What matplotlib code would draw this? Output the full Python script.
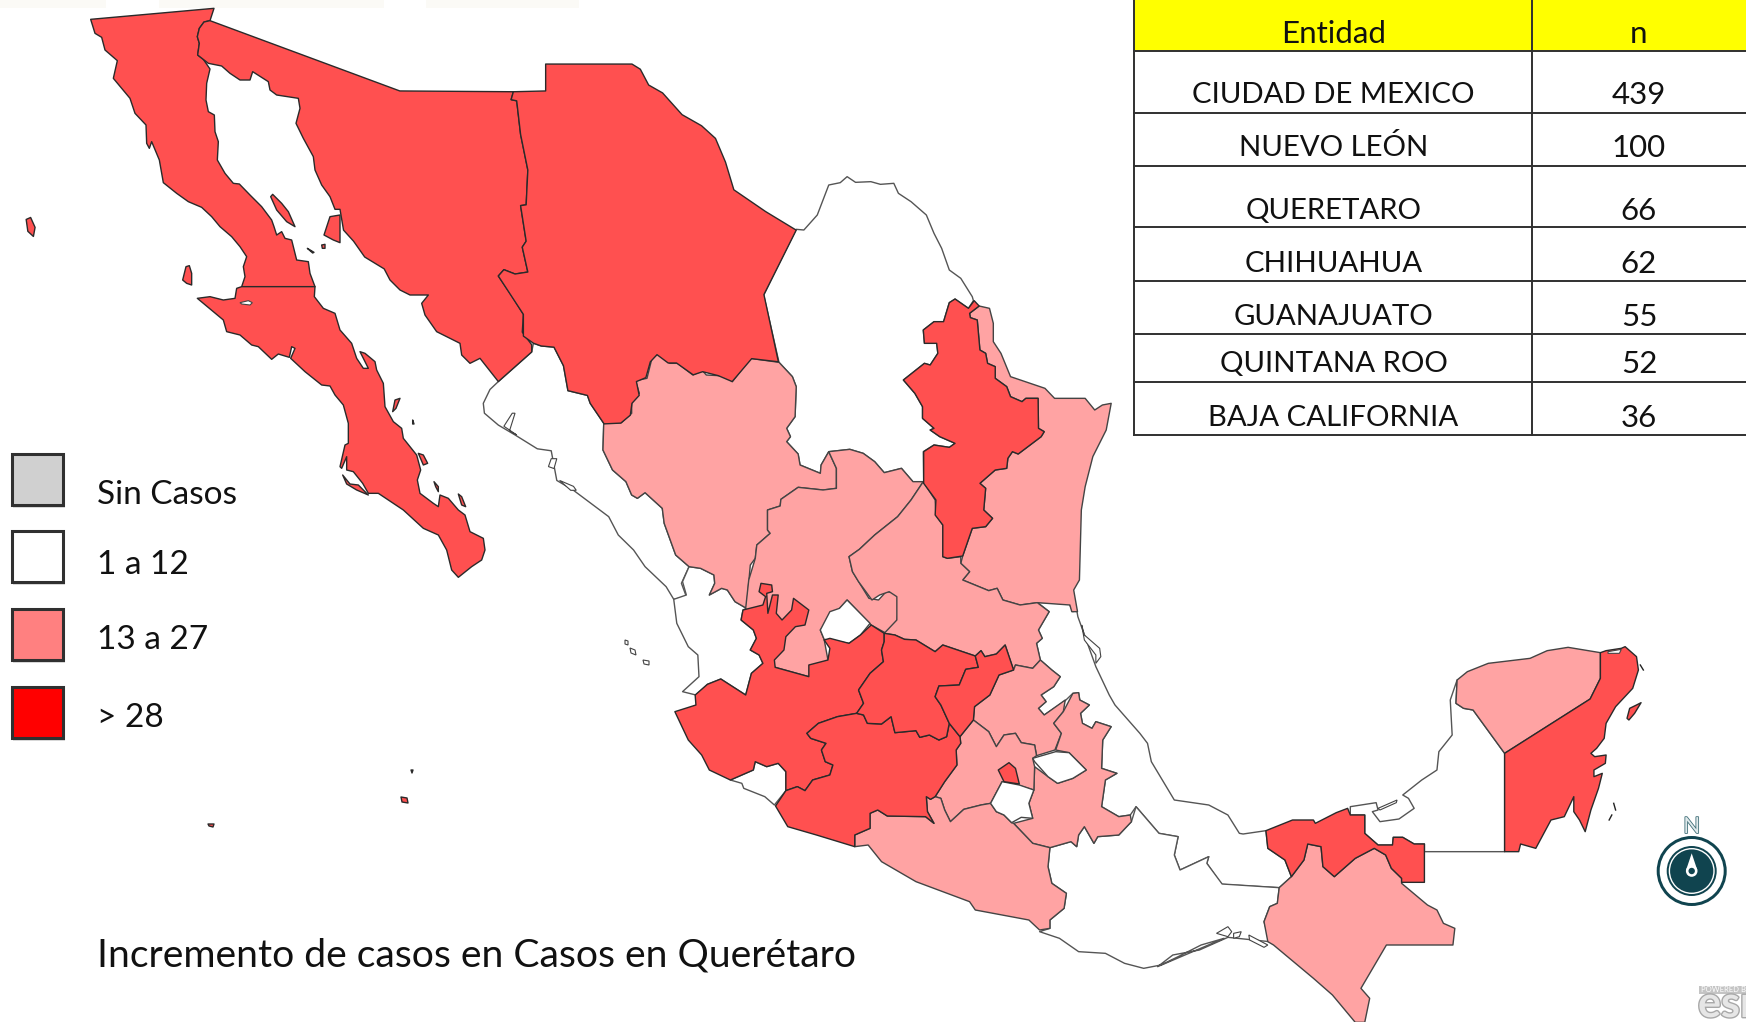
import matplotlib
matplotlib.use('Agg')
import matplotlib.pyplot as plt
import matplotlib.patheffects as pe
from matplotlib.patches import Polygon, Rectangle, Circle

plt.rcParams['font.family'] = ['Lato', 'DejaVu Sans']

# colores del mapa
RED = '#FF5050'
PINK = '#FFA3A3'
WHITE = '#FFFFFF'

# tabla
entidades = ['CIUDAD DE MEXICO', 'NUEVO LEÓN', 'QUERETARO', 'CHIHUAHUA', 'GUANAJUATO', 'QUINTANA ROO', 'BAJA CALIFORNIA']
casos = ['439', '100', '66', '62', '55', '52', '36']
filas_y = [0, 51, 112.7, 165.7, 227.3, 280.7, 334, 382, 435]
texto_y = [34, 95, 148, 210.7, 263.7, 317, 364, 418]

# leyenda
leyenda_txt = ['Sin Casos', '1 a 12', '13 a 27', '> 28']
leyenda_col = ['#D0D0D0', '#FFFFFF', '#FF8080', '#FF0000']
leyenda_box = [454, 531, 609, 686.7]
leyenda_y = [495, 565, 640, 718]

titulo = 'Incremento de casos en Casos en Querétaro'


# los contornos se leyeron de varios recortes del mapa
def z1(pts):
    return [(x / 1.796, y / 2.529) for x, y in pts]

def z2(pts):
    return [(580 + x / 2.613, 150 + y / 3) for x, y in pts]

def z3(pts):
    return [(650 + x / 2.613, 580 + y / 3) for x, y in pts]

def z4(pts):
    return [(1150 + x / 2.631, 620 + y / 3) for x, y in pts]

def z5(pts):
    return [(80 + x / 3, y / 3) for x, y in pts]

def z6(pts):
    return [(190 + x / 3, 280 + y / 3) for x, y in pts]


baja_california = z5([(32,58),(402,25),(390,62),(372,66),(358,85),(352,110),(358,130),(353,165),(370,178),(390,207),(380,250),(378,300),(385,335),(403,345),(405,395),(415,425),(412,480),(435,520),(460,550),(478,552),(510,585),(545,620),(575,660),(582,680),(590,705),(605,695),(615,715),(635,720),(650,780),(685,785),(690,820),(705,860),(485,860),(495,830),(490,800),(500,770),(480,740),(455,710),(420,680),(395,650),(365,622),(325,605),(290,580),(250,548),(238,480),(215,425),(208,445),(200,430),(198,375),(165,340),(150,295),(100,235),(112,182),(75,150),(65,112),(45,100)])
baja_sur = z6([(155,20),(375,20),(373,50),(400,85),(435,100),(450,150),(485,190),(500,235),(520,265),(535,265),(510,215),(525,220),(555,245),(560,270),(580,310),(585,380),(610,425),(635,445),(640,475),(680,525),(692,570),(682,600),(690,640),(730,670),(745,680),(750,645),(775,655),(805,690),(825,705),(840,755),(880,775),(885,810),(875,840),(845,860),(805,892),(785,870),(770,810),(745,765),(700,745),(640,690),(565,640),(535,640),(518,610),(490,575),(470,570),(470,530),(455,565),(450,560),(465,495),(475,490),(475,430),(460,375),(435,345),(420,318),(395,315),(345,275),(302,235),(315,205),(305,200),(298,232),(265,222),(245,238),(205,200),(185,195),(150,165),(110,155),(100,120),(22,55),(60,50),(100,60),(135,55),(140,25)])
sonora = z1([(718,230),(922,232),(918,252),(928,255),(935,340),(948,430),(945,518),(935,520),(945,610),(938,625),(948,688),(925,693),(905,682),(895,698),(920,750),(940,795),(938,840),(955,872),(955,890),(895,965)]) + z6([(870,235),(840,250),(815,225),(810,190),(790,180),(740,155),(705,105),(695,70),(715,45),(660,45),(630,30),(600,0)]) + z1([(690,680),(655,650),(635,610),(617,582)]) + z5([(780,628),(765,628),(750,590),(725,555),(705,510),(700,470),(670,415),(648,370),(660,325),(655,295),(590,285),(570,270),(565,245),(518,215),(510,240),(480,240),(450,220),(425,198),(410,195),(385,190),(353,165),(358,130),(352,110),(358,85),(372,66),(390,62)])
chihuahua = z1([(922,232),(980,230),(980,162),(1135,162),(1150,175),(1165,215),(1190,235),(1225,290),(1260,318),(1285,350),(1303,410),(1318,480),(1375,535),(1430,582),(1372,745),(1398,915),(1350,907),(1315,965),(1290,950),(1262,940),(1245,948),(1215,918),(1200,918),(1180,897),(1168,915),(1160,955),(1143,965),(1148,1000),(1135,1020),(1132,1050),(1115,1070),(1085,1072),(1060,1020),(1055,1000),(1020,988),(1012,925),(995,878),(972,875),(958,868),(940,850),(940,795),(895,698),(905,682),(925,693),(948,688),(938,625),(945,610),(935,520),(945,518),(948,430),(935,340),(928,255),(918,252)])
islas_rojas = [
    z1([(47,555),(55,550),(63,575),(60,598),(50,585)]),
    z5([(308,840),(318,800),(328,797),(335,820),(335,855),(320,850)]),
    z5([(572,590),(578,583),(605,610),(625,635),(645,680),(620,665),(590,630)]),
    z5([(750,650),(780,645),(780,728),(760,720),(732,705)]),
    z5([(682,745),(702,757),(698,759)]),
    z5([(725,735),(735,733),(735,745),(727,745)]),
    z6([(608,395),(615,360),(630,355),(618,385)]),
    z6([(668,420),(672,432),(668,432)]),
    z6([(685,520),(700,525),(713,550),(700,555)]),
    z6([(732,605),(745,620),(745,635),(737,620)]),
    z6([(805,642),(815,650),(827,680),(815,675)]),
    z6([(458,585),(480,612),(505,615),(535,645),(500,630),(470,612)]),
    [(401,797),(407,798),(408,803),(402,802)],
    [(411,770),(413,770),(412,773)],
    [(208,824),(214,824),(213,827),(209,826)],
    z4([(1255,295),(1262,265),(1280,255),(1292,248),(1275,280),(1260,300)]),
]

sinaloa = z1([(895,965),(880,985),(868,1020),(870,1045),(895,1075),(925,1100),(965,1135),(990,1140),(1000,1215),(1030,1240)]) + z2([(75,1100),(100,1155),(140,1200),(170,1250),(225,1310),(245,1348),(278,1340),(265,1300),(285,1250),(250,1215),(220,1120),(215,1075),(170,1028),(150,1045),(135,1035),(120,995),(85,960),(60,900),(62,820)]) + z1([(1060,1020),(1055,1000),(1020,988),(1012,925),(995,878),(972,875),(958,868),(955,890)])
nayarit = z2([(285,1250),(315,1255),(350,1275),(352,1300),(338,1335),(370,1315),(385,1320),(405,1355),(435,1375)]) + z3([(243,90),(238,120),(270,150),(278,175),(262,210),(285,225),(295,250),(265,280),(250,345),(185,297),(150,313),(120,345),(85,335),(128,290),(125,225),(100,200),(70,130),(62,58),(95,45),(85,5)])
coahuila = z2([(565,238),(585,240),(620,195),(650,105),(680,98),(698,80),(720,97),(760,95),(785,103),(820,100),(832,130),(865,155),(905,195),(925,250),(945,295),(965,360),(995,385),(1025,440),(1028,452),(1015,475),(980,447),(965,458),(950,515),(925,515),(897,540),(900,580),(932,580),(935,610),(915,645),(900,640),(845,690),(875,730),(895,770),(895,805),(925,835),(915,840),(940,860),(980,880),(965,892),(925,885),(897,905),(898,995),(885,995),(870,995),(840,955),(795,968),(770,935),(740,910),(705,898),(650,905),(630,945),(628,970),(575,945),(570,912),(540,875),(550,860),(540,835),(562,800),(565,710),(555,680),(520,637),(480,435)])
veracruz = z3([(1012,67),(1095,70),(1105,95),(1115,90),(1118,110),(1165,260),(1200,345),(1215,375),(1280,460),(1300,490),(1310,545),(1370,660),(1460,675),(1510,705),(1540,760)]) + z4([(245,642),(305,632),(310,685),(355,720),(372,770),(340,803),(188,793)]) + z3([(1455,850),(1460,830),(1385,870),(1370,825),(1380,770),(1330,760),(1270,680),(1255,705),(1225,710),(1180,680),(1190,600),(1220,580),(1180,565),(1183,480),(1205,440),(1165,425),(1155,445),(1130,430),(1125,400),(1148,375),(1123,360),(1120,338),(1105,340),(1085,362),(1030,405),(1015,385),(1035,365),(1022,345),(1055,320),(1072,290),(1050,270),(1020,240),(1010,190),(1025,175),(1015,150),(1043,95)])
oaxaca = z3([(1045,803),(1100,785),(1115,800),(1120,765),(1135,740),(1160,790),(1170,770),(1225,765),(1258,725),(1270,680),(1330,760),(1380,770),(1370,825),(1385,870),(1460,830),(1455,850),(1495,912)]) + z4([(340,803),(335,850),(315,860),(300,905),(315,965),(205,952),(130,990),(60,1005),(20,1040)]) + z3([(1500,1075),(1440,1095),(1380,1130),(1335,1155),(1290,1165),(1240,1150),(1190,1120),(1120,1115),(1070,1075),(1018,1055),(1045,1045),(1045,1020),(1082,985),(1088,940),(1050,910),(1040,860)])
colima = z3([(210,600),(270,570),(275,545),(305,560),(335,550),(355,575),(355,632),(325,675),(300,650),(245,625),(240,610)])
aguascalientes = z3([(575,130),(545,95),(515,60),(495,85),(470,95),(445,150),(455,178),(520,190),(550,165)])
tlaxcala = z3([(1000,535),(1060,515),(1095,518),(1140,570),(1105,595),(1065,610),(1040,590),(1005,545)])
morelos = z3([(920,605),(965,615),(1003,630),(990,670),(1000,715),(970,712),(945,728),(925,705),(905,695),(890,670)])
campeche = z4([(527,560),(595,548),(600,570),(585,575),(605,605),(655,597),(695,565),(680,535),(665,525),(715,480),(755,450),(760,395),(795,345),(790,240),(808,180),(805,250),(825,265),(850,270),(933,400),(933,695),(722,695),(722,672),(695,672),(665,652),(640,652),(638,675),(600,675),(565,640),(565,585),(527,585)])

durango = z2([(62,820),(108,818),(135,790),(135,750),(155,730),(145,692),(175,685),(188,625),(203,612),(235,640),(255,640),(295,675),(320,662),(330,675),(380,678),(398,695),(445,625),(520,637),(555,680),(565,710),(562,800),(540,835),(550,860),(540,875),(570,912),(575,945),(628,970),(630,945),(650,905),(670,955),(670,1015),(635,1020),(570,1012),(525,1048),(523,1068),(490,1080),(490,1140),(497,1150),(462,1185),(458,1225),(445,1245),(435,1375),(405,1355),(385,1320),(370,1315),(338,1335),(352,1300),(350,1275),(315,1255),(285,1250),(250,1215),(220,1120),(215,1075),(170,1028),(150,1045),(135,1035),(120,995),(85,960),(60,900)])
zacatecas = z2([(650,905),(705,898),(740,910),(770,935),(795,968),(840,955),(870,995),(885,995),(897,995),(865,1050),(830,1100),(770,1155),(730,1198),(703,1220),(712,1265),(755,1345),(780,1350),(800,1325),(825,1328),(835,1350),(828,1415),(800,1450)]) + z3([(578,135),(515,60),(445,150),(455,178),(465,240),(415,290),(327,262),(300,200),(250,85),(258,0)]) + z2([(458,1225),(462,1185),(497,1150),(490,1140),(490,1080),(523,1068),(525,1048),(570,1012),(635,1020),(670,1015),(670,955)])
tamaulipas = z2([(1043,468),(1070,475),(1080,520),(1080,575),(1100,610),(1125,680),(1215,715),(1240,745),(1320,745),(1345,780),(1365,765),(1388,760),(1375,840),(1340,920),(1320,1010),(1310,1080),(1305,1290),(1290,1320),(1300,1385),(1285,1385),(1280,1365),(1195,1358),(1150,1365),(1105,1350),(1090,1315),(1068,1322),(1000,1290),(1018,1265),(995,1240),(1000,1218),(1025,1135),(1060,1130),(1078,1105),(1055,1080),(1060,1015),(1045,1000),(1085,960),(1115,955),(1118,925),(1130,905),(1145,912),(1205,860),(1213,845),(1198,835),(1197,745),(1165,745),(1155,755),(1125,740),(1115,710),(1085,685),(1085,650),(1065,640),(1060,610),(1045,600),(1038,510),(1020,503),(1018,490)])
san_luis = z2([(897,995),(928,1050),(930,1095),(948,1125),(948,1220),(960,1225),(995,1220),(995,1240),(1018,1265),(1000,1290),(1068,1322),(1090,1315),(1105,1350),(1150,1365),(1195,1358)]) + z3([(1043,95),(1015,150),(1025,175),(1010,190),(1020,240),(1000,265),(955,255),(950,270),(928,195),(905,222),(875,230),(865,212),(850,228),(765,195),(745,215),(695,180),(665,178),(640,165),(612,160),(645,120),(645,50),(625,35),(600,45),(580,60),(545,5)]) + z2([(712,1265),(703,1220),(730,1198),(770,1155),(830,1100),(865,1050)])
hidalgo = z3([(950,270),(955,255),(1000,265),(1020,240),(1050,270),(1072,290),(1055,320),(1022,345),(1035,365),(1015,385),(1030,405),(1085,360),(1080,395),(1055,430),(1075,460),(1058,510),(1010,527),(1005,495),(970,488),(955,460),(925,465),(905,500),(885,455),(845,420),(848,380),(888,345),(912,285)])
puebla = z3([(1105,340),(1120,338),(1123,360),(1148,375),(1125,400),(1130,430),(1155,445),(1165,425),(1205,440),(1183,480),(1180,565),(1220,580),(1190,600),(1180,680),(1225,710),(1255,705),(1258,725),(1225,765),(1170,770),(1160,790),(1135,740),(1120,765),(1115,800),(1100,785),(1045,803),(1000,790),(950,730),(1000,715),(990,670),(1003,630),(1005,560),(1040,590),(1065,610),(1105,595),(1140,570),(1095,518),(1060,510),(1075,460),(1055,430),(1080,395)])
edomex = z3([(845,420),(885,455),(905,500),(925,465),(955,460),(970,488),(1005,495),(1010,527),(1000,535),(1005,560),(1003,630),(960,615),(920,605),(890,670),(865,675),(820,688),(785,725),(770,690),(760,655),(745,650),(770,605),(802,555),(800,510),(812,490),(810,470)])
guerrero = z3([(535,800),(535,765),(575,745),(575,700),(595,690),(620,708),(720,710),(742,730),(725,695),(722,650),(733,658),(745,650),(760,655),(770,690),(785,725),(820,688),(865,675),(890,670),(905,695),(925,705),(945,728),(950,730),(1000,790),(1045,803),(1040,860),(1050,910),(1088,940),(1082,985),(1045,1020),(1045,1045),(1018,1050),(990,1020),(850,990),(835,965),(695,905),(605,845),(570,795)])
chiapas = z4([(340,803),(372,770),(405,720),(415,672),(450,680),(455,740),(485,770),(540,715),(590,685),(620,705),(635,745),(662,775),(662,790),(730,855),(755,870),(772,910),(802,925),(797,975),(622,975),(555,1105),(578,1135),(565,1207),(540,1207),(480,1125),(430,1075),(325,975),(310,965),(300,905),(315,860),(335,850)])
yucatan = z4([(808,180),(835,155),(890,130),(1000,115),(1045,92),(1100,82),(1185,98),(1185,175),(1158,237),(933,400),(850,270),(825,265),(805,250)])

nuevo_leon = z2([(980,447),(1015,475),(1030,452),(1043,468),(1018,490),(1020,503),(1038,510),(1045,600),(1060,610),(1065,640),(1085,650),(1085,685),(1115,710),(1125,740),(1155,755),(1165,745),(1197,745),(1198,835),(1213,845),(1205,860),(1145,912),(1130,905),(1118,925),(1115,955),(1085,960),(1045,1000),(1060,1015),(1055,1080),(1078,1105),(1060,1130),(1025,1135),(1000,1218),(960,1225),(948,1220),(948,1125),(928,1095),(930,1050),(898,1000),(898,905),(925,885),(965,892),(980,880),(940,860),(915,840),(925,835),(895,805),(895,770),(875,730),(845,690),(900,640),(915,645),(935,610),(932,580),(900,580),(897,540),(925,515),(950,515),(965,458)])
jalisco = z3([(238,120),(243,90),(295,75),(302,50),(285,35),(290,10),(318,15),(320,35),(305,40),(308,100),(320,45),(335,45),(330,100),(345,120),(370,90),(375,55),(415,90),(405,135),(380,140),(355,170),(350,210),(325,240),(327,262),(415,290),(415,255),(465,240),(470,205),(455,180),(470,175),(520,190),(550,165),(578,135),(612,160),(612,185),(605,210),(610,245),(575,280),(545,330),(558,370),(540,400),(490,410),(440,430),(410,460),(420,475),(460,490),(448,510),(458,545),(478,555),(470,585),(425,600),(405,632),(385,620),(355,632),(355,575),(335,550),(305,560),(275,545),(270,570),(210,600),(155,570),(135,525),(100,480),(65,395),(120,375),(118,345),(150,313),(185,297),(250,345),(265,280),(295,250),(285,225),(262,210),(278,175),(270,150)])
guanajuato = z3([(612,160),(640,165),(665,178),(695,180),(745,215),(765,195),(850,228),(858,262),(825,268),(808,315),(755,318),(745,350),(760,375),(782,430),(775,470),(755,480),(730,465),(705,472),(695,452),(640,458),(630,410),(605,432),(568,430),(558,405),(540,400),(558,370),(545,330),(575,280),(610,245),(605,210),(612,185)])
queretaro = z3([(850,228),(865,212),(875,230),(905,222),(928,195),(950,270),(912,285),(888,345),(848,380),(845,420),(810,470),(782,430),(760,375),(745,350),(755,318),(808,315),(825,268),(858,262)])
michoacan = z3([(540,400),(558,405),(568,430),(605,432),(630,410),(640,458),(695,452),(705,472),(730,465),(755,480),(775,470),(782,430),(810,470),(812,490),(800,510),(802,555),(770,605),(745,650),(733,658),(722,650),(725,695),(742,730),(720,710),(620,708),(595,690),(575,700),(575,745),(535,765),(535,800),(435,765),(360,740),(328,678),(355,632),(385,620),(405,632),(425,600),(470,585),(478,555),(458,545),(448,510),(460,490),(420,475),(410,460),(440,430),(490,410)])
cdmx = z3([(910,570),(938,548),(955,565),(965,612),(925,605)])
tabasco = z4([(305,632),(375,600),(430,600),(435,610),(490,578),(520,565),(527,585),(565,585),(565,640),(600,675),(638,675),(640,652),(665,652),(695,672),(722,672),(722,787),(662,787),(662,775),(635,745),(620,705),(590,685),(540,715),(485,770),(455,740),(450,680),(415,672),(405,720),(372,770),(355,720),(310,685)])
quintana_roo = z4([(1185,98),(1200,92),(1240,85),(1250,80),(1280,110),(1285,150),(1270,205),(1225,260),(1200,310),(1195,355),(1175,385),(1160,400),(1170,410),(1200,405),(1198,430),(1168,450),(1168,470),(1190,460),(1180,505),(1160,570),(1145,635),(1130,600),(1115,575),(1115,530),(1090,590),(1055,600),(1015,685),(975,672),(970,695),(933,695),(933,400),(1158,237),(1185,175)])

# lagunas e islotes sin color
lagunas = [
    z6([(150,68),(175,62),(187,68),(180,75),(155,72)]),
    z1([(990,1160),(1000,1160),(995,1185),(985,1180)]),
    z1([(1005,1215),(1030,1230),(1035,1240),(1025,1240)]),
    z1([(905,1078),(920,1045),(925,1045),(915,1090),(928,1100)]),
    z3([(1128,135),(1135,165),(1175,205),(1178,230),(1165,250),(1165,225),(1135,180)]),
    z4([(175,940),(205,920),(215,935),(205,950)]),
    z4([(220,940),(240,935),(235,950),(220,955)]),
    z4([(260,945),(310,975),(300,982),(262,960)]),
    z4([(600,565),(650,540),(648,548),(605,570)]),
    z4([(1205,95),(1240,88),(1235,100),(1205,100)]),
    [(625,640),(628,641),(628,645),(625,644)],
    [(630,648),(635,650),(636,655),(631,653)],
    [(643,660),(649,661),(649,665),(644,664)],
]
cayos = [
    z4([(1290,135),(1298,150)]),
    z4([(1220,550),(1225,570)]),
    z4([(1215,585),(1208,600)]),
]

# franjas muy tenues arriba de la imagen
franjas_x = [(0, 106), (159, 384), (426, 579)]

blancos = [sinaloa, nayarit, coahuila, veracruz, oaxaca, colima, campeche]
rosas = [durango, zacatecas, tamaulipas, san_luis, hidalgo, puebla, edomex, guerrero, chiapas, yucatan]
blancos2 = [aguascalientes, tlaxcala, morelos]
rojos = [baja_california, baja_sur, sonora, chihuahua, nuevo_leon, jalisco, michoacan, guanajuato, queretaro, cdmx, tabasco, quintana_roo] + islas_rojas

fig = plt.figure(figsize=(17.46, 10.22), dpi=100)
ax = fig.add_axes([0, 0, 1, 1])
ax.set_xlim(0, 1746)
ax.set_ylim(1022, 0)
ax.axis('off')

for x0, x1 in franjas_x:
    ax.add_patch(Rectangle((x0, 0), x1 - x0, 8, fc='#FBFAF6', ec='none'))

for pts in blancos:
    ax.add_patch(Polygon(pts, closed=True, fc=WHITE, ec='#555555', lw=1.0, joinstyle='round'))
for pts in rosas:
    ax.add_patch(Polygon(pts, closed=True, fc=PINK, ec='#444444', lw=1.0, joinstyle='round'))
for pts in blancos2:
    ax.add_patch(Polygon(pts, closed=True, fc=WHITE, ec='#444444', lw=1.0, joinstyle='round'))
for pts in rojos:
    ax.add_patch(Polygon(pts, closed=True, fc=RED, ec='#2a2a2a', lw=1.0, joinstyle='round'))
for pts in lagunas:
    ax.add_patch(Polygon(pts, closed=True, fc=WHITE, ec='#444444', lw=0.8))
for pts in cayos:
    ax.plot([p[0] for p in pts], [p[1] for p in pts], color='#222222', lw=1.0)

# tabla arriba a la derecha
TX0, TX1, TX2 = 1134.4, 1532.4, 1746
ax.add_patch(Rectangle((TX0, 0), TX2 - TX0, filas_y[1], fc='#FFFF00', ec='none'))
for y in filas_y[1:]:
    ax.plot([TX0, TX2], [y, y], color='#303030', lw=1.4)
ax.plot([TX0, TX0], [0, 435], color='#303030', lw=1.4)
ax.plot([TX1, TX1], [0, 435], color='#303030', lw=1.4)
ax.text(1333.6, texto_y[0], 'Entidad', ha='center', va='center', fontsize=22.5, color='#111111')
ax.text(1639, texto_y[0], 'n', ha='center', va='center', fontsize=22.5, color='#111111')
for i in range(len(entidades)):
    ax.text(1333.6, texto_y[i + 1], entidades[i], ha='center', va='center', fontsize=21.2, color='#111111')
    ax.text(1639, texto_y[i + 1], casos[i], ha='center', va='center', fontsize=22.5, color='#111111')

# leyenda
for i in range(len(leyenda_txt)):
    ax.add_patch(Rectangle((13, leyenda_box[i] + 2), 52, 52, fc='#bbbbbb', ec='none', alpha=0.5))
    ax.add_patch(Rectangle((12, leyenda_box[i]), 51, 51.5, fc=leyenda_col[i], ec='#303030', lw=2.2))
    ax.text(97, leyenda_y[i], leyenda_txt[i], ha='left', va='center', fontsize=24, color='#111111')

ax.text(97, 956, titulo, ha='left', va='center', fontsize=28.2, color='#111111')

# brujula
CX, CY = 1691.7, 871
ax.add_patch(Circle((CX, CY), 35, fc='#10444F', ec='none'))
ax.add_patch(Circle((CX, CY), 32, fc='white', ec='none'))
ax.add_patch(Circle((CX, CY), 25, fc='#10444F', ec='none'))
ax.add_patch(Circle((CX, CY), 22.3, fc='#10444F', ec='white', lw=1.0))
ax.add_patch(Polygon([(CX, CY - 17.7), (CX - 5.6, CY - 1), (CX + 5.6, CY - 1)], closed=True, fc='white', ec='none'))
ax.add_patch(Circle((CX, CY), 5.8, fc='white', ec='none'))
ax.add_patch(Circle((CX, CY), 3.2, fc='#10444F', ec='none'))
ax.text(CX, 827, 'N', ha='center', va='center', fontsize=16, color='#dfe9eb',
        path_effects=[pe.withStroke(linewidth=1.2, foreground='#3f6e77')])

# logo esri cortado por el borde
ax.add_patch(Rectangle((1699, 986), 47, 8, fc='#c4c4c4', ec='none'))
ax.text(1701, 990, 'POWERED BY', ha='left', va='center', fontsize=5.5, color='white')
ax.text(1698, 1017, 'esri', ha='left', va='baseline', fontsize=31, fontweight='bold', color='#e6e6e6',
        path_effects=[pe.withStroke(linewidth=2, foreground='#a8a8a8')])

fig.savefig('out.png', dpi=100)
